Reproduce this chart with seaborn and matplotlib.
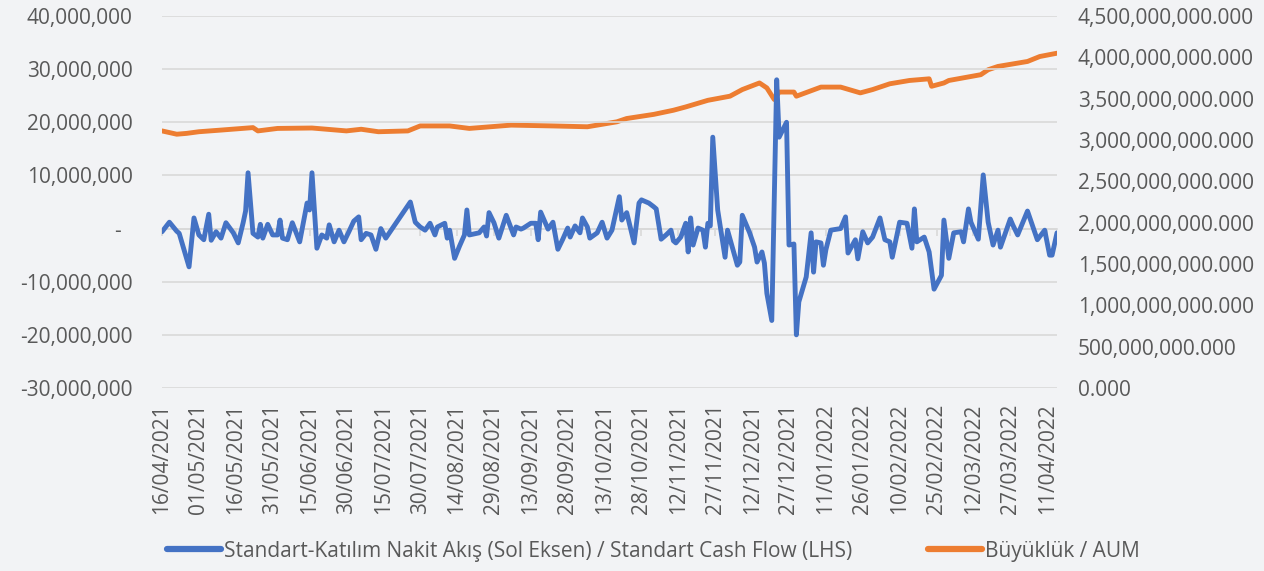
import numpy as np
import pandas as pd
import matplotlib
matplotlib.use("Agg")
import matplotlib.pyplot as plt
import matplotlib.ticker as mticker
import matplotlib.dates as mdates
import seaborn as sns

# ---------------- data ----------------
start_date = "2021-04-16"
end_date = "2022-04-15"

# Standart cash flow (millions TRY), day offsets from start_date
cf_days = [0, 3, 6, 7, 11, 13, 15, 17, 19, 20, 22, 24, 26, 29, 31, 33, 34, 35, 37, 39,
           40, 41, 43, 45, 47, 48, 49, 51, 53, 56, 59, 60, 61, 63, 65, 67, 68, 70, 72, 74,
           76, 78, 80, 81, 83, 85, 87, 89, 91, 101, 103, 105, 107, 109, 111, 112, 115, 116, 117, 119,
           121, 123, 124, 125, 129, 131, 132, 133, 135, 137, 140, 143, 144, 146, 147, 150, 152, 153, 154, 157,
           159, 161, 163, 165, 166, 168, 170, 171, 173, 174, 177, 179, 181, 183, 186, 187, 189, 192, 194, 195,
           198, 200, 201, 203, 205, 207, 208, 209, 211, 213, 214, 215, 216, 218, 220, 221, 222, 223, 224, 226,
           229, 230, 234, 235, 236, 239, 241, 242, 244, 245, 246, 248, 250, 251, 254, 255, 257, 258, 259, 262,
           264, 265, 266, 268, 269, 270, 272, 276, 278, 279, 282, 283, 285, 287, 289, 292, 294, 296, 297, 300,
           303, 305, 306, 307, 310, 312, 314, 317, 318, 320, 322, 325, 326, 328, 329, 332, 334, 336, 338, 340,
           341, 345, 346, 348, 352, 356, 359, 361, 362, 364]
cf_values = [-0.6, 1.2, -0.5, -0.9, -7.2, 2.0, -1.2, -2.1, 2.7, -2.2, -0.6, -1.8, 1.1, -0.8, -2.7, 1.1, 3.3, 10.5, -0.9, -1.6,
             0.8, -1.8, 0.8, -1.2, -1.2, 1.6, -1.8, -2.1, 1.1, -2.5, 4.8, 3.5, 10.5, -3.7, -1.2, -1.8, 0.7, -2.5, -0.3, -2.5,
             -0.6, 1.4, 2.2, -2.1, -0.9, -1.2, -3.9, 0.0, -1.8, 5.0, 1.2, 0.3, -0.3, 1.0, -1.2, 0.3, 1.0, -1.8, -0.3, -5.6,
             -3.3, -1.2, 3.5, -1.2, -0.8, 0.3, -1.4, 3.0, 1.1, -1.8, 2.5, -1.2, 0.3, -0.1, 0.1, 1.0, 1.0, -2.1, 3.1, -0.1,
             1.2, -3.9, -2.0, 0.1, -1.6, 0.5, -0.8, 2.0, 0.3, -1.8, -0.8, 1.2, -1.8, -0.3, 6.0, 1.6, 3.0, -2.7, 4.8, 5.4,
             4.8, 4.1, 3.7, -2.0, -1.2, -0.3, -2.3, -2.7, -1.6, 1.0, -4.4, 2.0, -3.1, 0.1, -0.3, -3.5, 1.0, 0.5, 17.2, 3.5,
             -5.4, -0.3, -6.9, -6.3, 2.5, -0.8, -3.5, -6.3, -4.4, -6.5, -12.2, -17.3, 28.0, 17.2, 20.0, -3.1, -2.9, -20.0, -13.8, -9.1,
             -0.8, -8.2, -2.5, -2.7, -6.9, -4.0, -0.3, 0.0, 2.2, -4.6, -2.1, -5.7, -0.6, -2.7, -1.6, 2.0, -2.1, -2.5, -5.4, 1.2,
             1.0, -3.7, 3.7, -2.5, -1.6, -4.4, -11.4, -8.8, 1.6, -5.6, -0.8, -0.6, -2.5, 3.7, 1.2, -2.0, 10.1, 1.2, -3.1, -0.3,
             -3.5, 1.8, 0.7, -1.2, 3.3, -2.1, -0.3, -5.0, -5.0, -0.8]

# AUM (billions TRY), day offsets from start_date
aum_days = [0, 6, 10, 15, 24, 37, 39, 47, 61, 75, 81, 88, 100, 105, 117, 125, 142, 159, 173, 185,
            189, 200, 208, 213, 222, 231, 236, 243, 246, 249, 251, 257, 258, 268, 276, 284, 289, 296, 304, 312,
            313, 318, 320, 333, 336, 340, 352, 357, 364]
aum_values = [3.11, 3.07, 3.08, 3.10, 3.12, 3.15, 3.11, 3.14, 3.145, 3.11, 3.13, 3.10, 3.11, 3.17, 3.17, 3.14, 3.18, 3.17, 3.16, 3.22,
              3.26, 3.31, 3.36, 3.40, 3.48, 3.53, 3.61, 3.69, 3.63, 3.49, 3.58, 3.58, 3.53, 3.64, 3.64, 3.57, 3.61, 3.68, 3.72, 3.74,
              3.65, 3.69, 3.72, 3.79, 3.85, 3.89, 3.95, 4.01, 4.05]

cf_label = "Standart-Katılım Nakit Akış (Sol Eksen) / Standart Cash Flow (LHS)"
aum_label = "Büyüklük / AUM"

# ---------------- frames ----------------
t0 = pd.Timestamp(start_date)
cf_df = pd.DataFrame({"date": t0 + pd.to_timedelta(cf_days, unit="D"),
                      "value": np.array(cf_values) * 1e6})
aum_df = pd.DataFrame({"date": t0 + pd.to_timedelta(aum_days, unit="D"),
                       "value": np.array(aum_values) * 1e9})

# ---------------- style ----------------
sns.set_theme(style="white")
plt.rcParams["font.family"] = ["Open Sans", "DejaVu Sans"]
bg = "#F2F3F5"
txt = "#595959"
grid = "#D9D9D9"
blue = "#4472C4"
orange = "#ED7D31"

fig = plt.figure(figsize=(12.64, 5.71), dpi=100, facecolor=bg)
ax = fig.add_axes([162 / 1264, 1 - 388 / 571, (1057 - 162) / 1264, (388 - 16) / 571])
ax.set_facecolor("none")
ax2 = ax.twinx()
ax2.set_facecolor("none")

sns.lineplot(data=cf_df, x="date", y="value", ax=ax, color=blue, linewidth=3.5,
             legend=False, zorder=3)
sns.lineplot(data=aum_df, x="date", y="value", ax=ax2, color=orange, linewidth=3.5,
             legend=False, zorder=3)
ax.set_zorder(ax2.get_zorder() + 1)

# left axis
ax.set_ylim(-30e6, 40e6)
ax.yaxis.set_major_locator(mticker.MultipleLocator(10e6))
ax.yaxis.set_major_formatter(mticker.FuncFormatter(
    lambda v, p: "-  " if abs(v) < 1 else f"{v:,.0f}"))
ax.grid(axis="y", color=grid, linewidth=1.2, zorder=0)
ax.tick_params(axis="y", length=0, pad=21, labelsize=15, labelcolor=txt)

# right axis
ax2.set_ylim(0, 4.5e9)
ax2.yaxis.set_major_locator(mticker.MultipleLocator(0.5e9))
ax2.yaxis.set_major_formatter(mticker.FuncFormatter(lambda v, p: f"{v:,.3f}"))
ax2.tick_params(axis="y", length=0, pad=15, labelsize=15, labelcolor=txt)
ax2.grid(False)

# x axis
xmin, xmax = pd.Timestamp(start_date), pd.Timestamp(end_date)
ax.set_xlim(xmin, xmax)
ticks = pd.date_range(xmin, xmax, freq="15D")
ax.set_xticks(ticks)
ax.xaxis.set_major_formatter(mdates.DateFormatter("%d/%m/%Y"))
ax.tick_params(axis="x", length=0, pad=11, labelsize=15, labelcolor=txt, rotation=90)
ax.set_xlabel("")
ax.set_ylabel("")
ax2.set_ylabel("")

# horizontal axis line at zero with small tick marks
ylo, yhi = ax.get_ylim()
sec = ax.secondary_xaxis((0 - ylo) / (yhi - ylo))
sec.set_xticks(ticks)
sec.tick_params(axis="x", length=5, width=1.2, color=grid, labelbottom=False, direction="out")
for s in sec.spines.values():
    s.set_visible(False)
sec.spines["bottom"].set_visible(True)
sec.spines["bottom"].set_color(grid)
sec.spines["bottom"].set_linewidth(1.2)

for a in (ax, ax2):
    for s in a.spines.values():
        s.set_visible(False)

# legend
handles = [plt.Line2D([], [], color=blue, linewidth=4.5),
           plt.Line2D([], [], color=orange, linewidth=4.5)]
leg = fig.legend(handles, [cf_label, aum_label], ncol=2, frameon=False,
                 loc="center left", bbox_to_anchor=(167 / 1264, 1 - 551 / 571),
                 borderpad=0, borderaxespad=0, handlelength=2.6, handletextpad=0.15,
                 columnspacing=3.6, fontsize=15)
for t in leg.get_texts():
    t.set_color(txt)

fig.savefig("out.png", dpi=100, facecolor=bg)
